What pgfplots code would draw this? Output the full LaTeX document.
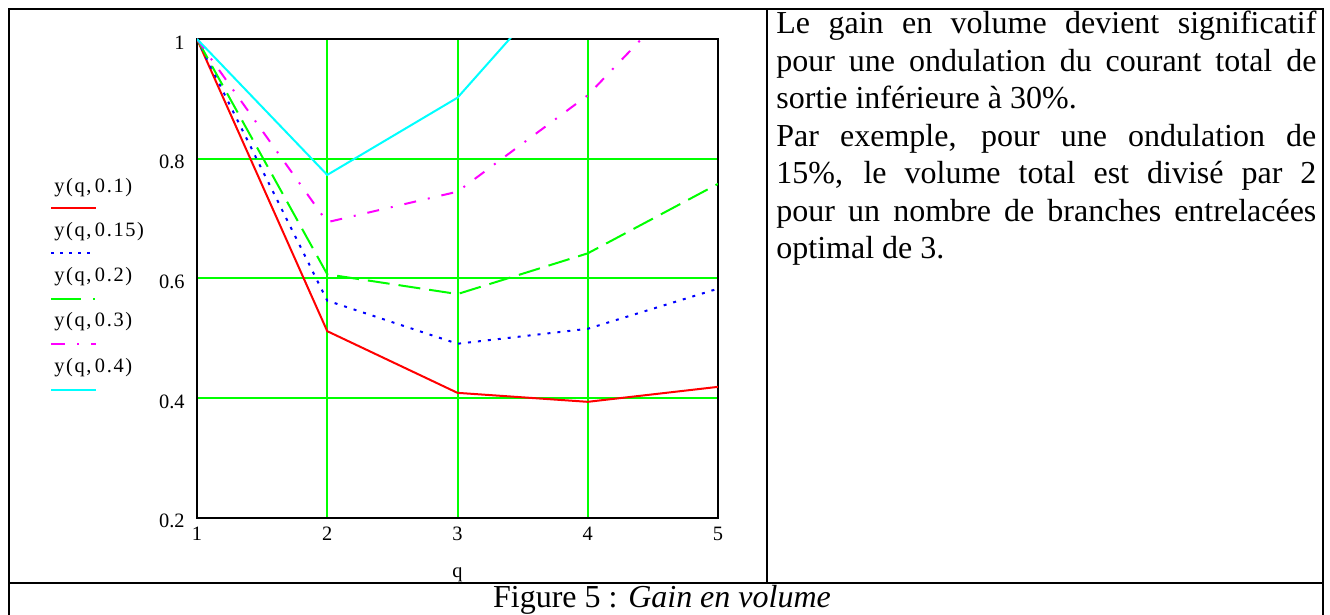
\documentclass[border=0pt]{standalone}
\usepackage{fontspec}
\setmainfont{Liberation Serif}
\newfontfamily\mcfont[LetterSpace=8]{Liberation Serif}
\usepackage{pgfplots}
\pgfplotsset{compat=1.18}
\definecolor{mcred}{RGB}{255,0,0}
\definecolor{mcblue}{RGB}{0,0,255}
\definecolor{mcgreen}{RGB}{0,255,0}
\definecolor{mcmagenta}{RGB}{255,0,255}
\definecolor{mccyan}{RGB}{0,255,255}

\begin{document}
\begin{tikzpicture}
\useasboundingbox (0,0) rectangle (665pt,-307.5pt);

% table frame (1 unit = 1 px of the reference)
\begin{scope}[x=0.5pt,y=-0.5pt,line width=1.3pt]
\draw (9,660) -- (9,9) -- (1323,9) -- (1323,660);
\draw (767,9) -- (767,583);
\draw (9,583) -- (1323,583);
\end{scope}

\begin{axis}[
  at={(98.5pt,-19.5pt)}, anchor=north west,
  scale only axis,
  width=260.5pt, height=239.5pt,
  xmin=1, xmax=5, ymin=0.2, ymax=1,
  xtick={1,2,3,4,5},
  ytick={0.2,0.4,0.6,0.8,1},
  grid=major,
  major grid style={mcgreen, line width=1pt},
  major tick length=0pt,
  axis line style={black, line width=0.7pt},
  ticklabel style={font=\fontsize{10.2}{11}\selectfont},
  /pgf/number format/assume math mode=true,
  yticklabel style={anchor=base east, inner sep=0pt, xshift=-6pt, yshift=-5pt},
  xticklabel style={anchor=base, inner sep=0pt, yshift=-11.5pt},
  xlabel={q},
  xlabel style={at={(axis description cs:0.5,0)}, anchor=base, inner sep=0pt,
                yshift=-30pt, font=\fontsize{10.2}{11}\selectfont},
  every axis plot/.append style={line width=1pt},
]
% y(q,0.1)
\addplot[mcred] coordinates {(1,1) (2,0.512) (3,0.409) (4,0.394) (5,0.419)};
% y(q,0.15)
\addplot[mcblue, dash pattern=on 1.5pt off 3.5pt] coordinates {(1,1) (2,0.563) (3,0.491) (4,0.516) (5,0.583)};
% y(q,0.2)
\addplot[mcgreen, dash pattern=on 11pt off 4.5pt] coordinates {(1,1) (2,0.607) (3,0.574) (4,0.642) (5,0.758)};
% y(q,0.3)
\addplot[mcmagenta, dash pattern=on 6pt off 6pt on 1pt off 6pt] coordinates {(1,1) (2,0.694) (3,0.745) (4,0.906) (5,1.134)};
% y(q,0.4)
\addplot[mccyan] coordinates {(1,1) (2,0.773) (3,0.902) (4,1.147) (5,1.45)};
\end{axis}

% legend, Mathcad style: name above, line sample below
\begin{scope}[x=0.5pt,y=-0.5pt]
\tikzset{lg/.style={anchor=base west, inner sep=0pt, font=\mcfont\fontsize{10.2}{11}\selectfont}}
\node[lg] at (54,192) {y(q,\,0.1)};
\node[lg] at (54,237) {y(q,\,0.15)};
\node[lg] at (54,282) {y(q,\,0.2)};
\node[lg] at (54,327) {y(q,\,0.3)};
\node[lg] at (54,372) {y(q,\,0.4)};
\draw[mcred, line width=1pt] (51,208) -- (96,208);
\draw[mcblue, line width=1pt, dash pattern=on 1.5pt off 3pt] (51,253.5) -- (96,253.5);
\draw[mcgreen, line width=1pt, dash pattern=on 15pt off 6pt on 1pt off 6pt] (51,299) -- (96,299);
\draw[mcmagenta, line width=1pt, dash pattern=on 7pt off 6pt on 1pt off 6pt] (51,344) -- (96,344);
\draw[mccyan, line width=1pt] (51,389.5) -- (96,389.5);

% text of the right cell
\node[anchor=base west, inner sep=0pt] at (776,34) {\parbox[t]{270pt}{%
  \fontsize{16}{18.75}\selectfont
  Le gain en volume devient significatif\linebreak
  pour une ondulation du courant total de\linebreak
  sortie inférieure à 30\%.\par
  Par exemple, pour une ondulation de\linebreak
  15\%, le volume total est divisé par 2\linebreak
  pour un nombre de branches entrelacées\linebreak
  optimal de 3.}};

% caption row
\node[anchor=base, inner sep=0pt, font=\fontsize{16}{18}\selectfont] at (662,607)
  {Figure 5 : \textit{Gain en volume}};
\end{scope}
\end{tikzpicture}
\end{document}
